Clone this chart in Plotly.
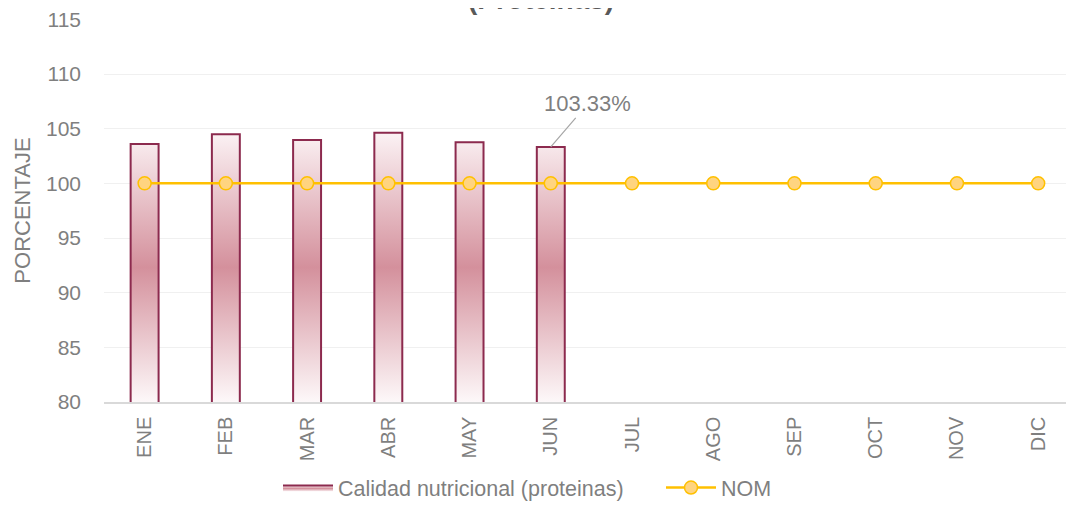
import plotly.graph_objects as go

months = ["ENE", "FEB", "MAR", "ABR", "MAY", "JUN", "JUL", "AGO", "SEP", "OCT", "NOV", "DIC"]
calidad = [103.6, 104.5, 103.97, 104.62, 103.75, 103.33]
nom = [100] * 12
label_text = "103.33%"

base = 80
half_w = 0.172
idx = list(range(len(months)))

# figure geometry (page has an 8px body margin)
W, H = 1074, 514
L, T, PH = 96, 9, 385
PW = W - L

# gradient bars drawn as filled outlines on the linear axis
bx, by = [], []
for i, v in enumerate(calidad):
    bx += [i - half_w, i - half_w, i + half_w, i + half_w, None]
    by += [base, v, v, base, None]

fig = go.Figure()
fig.add_trace(go.Scatter(
    x=bx, y=by, mode="lines", fill="toself",
    fillgradient=dict(type="vertical",
                      colorscale=[[0, "#fdf8f9"], [0.5, "#d4909c"], [1, "#fbf2f4"]]),
    line=dict(color="#8c2a4e", width=2),
    name="Calidad nutricional (proteinas)",
    hoverinfo="skip",
))
fig.add_trace(go.Scatter(
    x=idx, y=nom, mode="lines+markers", name="NOM",
    line=dict(color="#ffc000", width=2.5),
    marker=dict(size=13, color="#ffd480", line=dict(color="#ffc000", width=1.5)),
))

fig.add_annotation(
    x=5, y=calidad[5], text=label_text, showarrow=True, arrowhead=0,
    arrowwidth=1.2, arrowcolor="#a6a6a6", ax=37, ay=-43,
    font=dict(family="Liberation Sans, Arial", size=22, color="#7f7f7f"),
)
fig.add_annotation(
    xref="paper", yref="paper", x=(533 - L) / PW, y=1.0,
    yshift=2, yanchor="bottom", showarrow=False,
    text="<b>Calidad nutricional<br>(Proteinas)</b>",
    font=dict(family="Liberation Sans, Arial", size=28, color="#595959"),
)

fig.update_layout(
    width=W, height=H,
    margin=dict(l=L, r=0, t=T, b=H - T - PH, pad=0),
    paper_bgcolor="white", plot_bgcolor="white",
    font=dict(family="Liberation Sans, Arial", size=20, color="#7f7f7f"),
    showlegend=True,
    legend=dict(orientation="h", x=(270 - L) / PW, xanchor="left",
                y=-(480 - (T + PH)) / PH, yanchor="middle", itemwidth=50,
                entrywidth=318, entrywidthmode="pixels",
                font=dict(size=21.5, color="#7f7f7f")),
    xaxis=dict(
        range=[-0.5, -0.5 + (W - L - 0.4) / 81.2], tickmode="array",
        tickvals=idx, ticktext=months,
        tickangle=-90, showgrid=False, zeroline=False,
        showline=True, linecolor="#d9d9d9", linewidth=1.5, ticks="",
        ticklabelstandoff=5,
        tickfont=dict(size=20, color="#7f7f7f"),
    ),
    yaxis=dict(
        range=[80, 115.03], tickmode="array", tickvals=[80, 85, 90, 95, 100, 105, 110, 115],
        showgrid=True, gridcolor="#f0f0f0",
        zeroline=False, showline=False, ticks="", ticklabelstandoff=22,
        ticklabeloverflow="allow",
        tickfont=dict(size=21, color="#7f7f7f"),
        title=dict(text="PORCENTAJE", font=dict(size=22, color="#7f7f7f"), standoff=9),
    ),
)

fig.write_html("out.html")
